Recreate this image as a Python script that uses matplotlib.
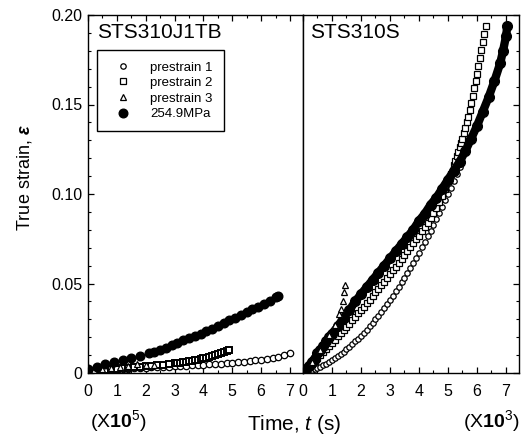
import matplotlib
matplotlib.use("Agg")
import matplotlib.pyplot as plt
from matplotlib.ticker import MultipleLocator, FixedLocator, FixedFormatter

plt.rcParams['font.family'] = ['Liberation Sans', 'DejaVu Sans']
plt.rcParams['mathtext.fontset'] = 'custom'
plt.rcParams['mathtext.rm'] = 'Liberation Sans'
plt.rcParams['mathtext.it'] = 'Liberation Sans:italic'
plt.rcParams['mathtext.bf'] = 'Liberation Sans:bold'
plt.rcParams['mathtext.sf'] = 'Liberation Sans:italic:bold'

# ---- left panel: STS310J1TB, time in 1e5 s ----
left_fill_x = [0.0, 0.3, 0.6, 0.9, 1.2, 1.5, 1.8, 2.1, 2.3, 2.5, 2.7, 2.9, 3.1, 3.3, 3.5, 3.7,
               3.9, 4.1, 4.3, 4.5, 4.7, 4.9, 5.1, 5.3, 5.5, 5.7, 5.9, 6.1, 6.3, 6.5, 6.6]
left_fill_y = [0.0020, 0.0035, 0.0048, 0.0060, 0.0073, 0.0085, 0.0097, 0.0110, 0.0120, 0.0130,
               0.0141, 0.0155, 0.0170, 0.0182, 0.0193, 0.0207, 0.0219, 0.0232, 0.0246, 0.0260,
               0.0277, 0.0294, 0.0310, 0.0326, 0.0341, 0.0356, 0.0371, 0.0388, 0.0405, 0.0422,
               0.0430]

left_sq_x = [0.0, 0.2, 0.4, 0.6, 0.8, 1.0, 1.2, 1.4, 1.6, 1.8, 2.0, 2.2, 2.4, 2.6, 2.8, 3.0,
             3.1, 3.2, 3.3, 3.4, 3.5, 3.6, 3.7, 3.8, 3.9, 4.0, 4.1, 4.2, 4.3, 4.4, 4.5, 4.6,
             4.7, 4.8, 4.9]
left_sq_y = [0.0010, 0.0013, 0.0016, 0.0019, 0.0022, 0.0025, 0.0027, 0.0030, 0.0032, 0.0035,
             0.0038, 0.0040, 0.0043, 0.0046, 0.0050, 0.0054, 0.0056, 0.0058, 0.0060, 0.0063,
             0.0065, 0.0068, 0.0071, 0.0074, 0.0078, 0.0082, 0.0086, 0.0090, 0.0095, 0.0100,
             0.0105, 0.0110, 0.0117, 0.0124, 0.0131]

left_circ_x = [0.0, 0.2, 0.4, 0.6, 0.8, 1.0, 1.2, 1.4, 1.6, 1.8, 2.0, 2.2, 2.4, 2.6, 2.8, 3.0,
               3.2, 3.4, 3.6, 3.8, 4.0, 4.2, 4.4, 4.6, 4.8, 5.0, 5.2, 5.4, 5.6, 5.8, 6.0, 6.2,
               6.4, 6.6, 6.8, 7.0]
left_circ_y = [0.0010, 0.0012, 0.0014, 0.0016, 0.0018, 0.0020, 0.0022, 0.0024, 0.0026, 0.0028,
               0.0030, 0.0031, 0.0033, 0.0035, 0.0036, 0.0038, 0.0040, 0.0041, 0.0043, 0.0045,
               0.0046, 0.0048, 0.0050, 0.0052, 0.0054, 0.0057, 0.0060, 0.0063, 0.0066, 0.0070,
               0.0074, 0.0079, 0.0085, 0.0092, 0.0100, 0.0110]

left_tri_x = [0.2, 0.5, 0.8, 1.1, 1.4, 1.7, 2.0, 2.3]
left_tri_y = [0.0014, 0.0020, 0.0026, 0.0032, 0.0040, 0.0050, 0.0046, 0.0042]

# ---- right panel: STS310S, time in 1e3 s ----
right_fill_x = [0.0, 0.1, 0.2, 0.3, 0.4, 0.5, 0.6, 0.7, 0.8, 0.9, 1.0, 1.2, 1.4, 1.6, 1.8, 2.0,
                2.2, 2.4, 2.6, 2.8, 3.0, 3.2, 3.4, 3.6, 3.8, 4.0, 4.2, 4.4, 4.6, 4.8, 5.0, 5.2,
                5.4, 5.6, 5.8, 6.0, 6.2, 6.4, 6.6, 6.8, 6.9, 7.0, 7.05]
right_fill_y = [0.000, 0.002, 0.004, 0.006, 0.008, 0.011, 0.013, 0.015, 0.018, 0.020, 0.022,
                0.026, 0.031, 0.035, 0.040, 0.044, 0.048, 0.052, 0.056, 0.060, 0.064, 0.068,
                0.072, 0.076, 0.080, 0.085, 0.089, 0.094, 0.098, 0.103, 0.108, 0.113, 0.118,
                0.124, 0.131, 0.138, 0.146, 0.154, 0.163, 0.173, 0.180, 0.188, 0.194]

right_circ_x = [0.0, 0.1, 0.2, 0.3, 0.4, 0.5, 0.6, 0.7, 0.8, 0.9, 1.0, 1.1, 1.2, 1.3, 1.4, 1.5,
                1.6, 1.7, 1.8, 1.9, 2.0, 2.1, 2.2, 2.3, 2.4, 2.5, 2.6, 2.7, 2.8, 2.9, 3.0, 3.1,
                3.2, 3.3, 3.4, 3.5, 3.6, 3.7, 3.8, 3.9, 4.0, 4.1, 4.2, 4.3, 4.4, 4.5, 4.6, 4.7,
                4.8, 4.9, 5.0, 5.1, 5.2, 5.3, 5.4]
right_circ_y = [0.0000, 0.0004, 0.0009, 0.0015, 0.0021, 0.0028, 0.0036, 0.0044, 0.0052, 0.0062,
                0.0072, 0.0083, 0.0094, 0.0106, 0.0119, 0.0132, 0.0146, 0.0160, 0.0176, 0.0192,
                0.0208, 0.0225, 0.0243, 0.0261, 0.0280, 0.0300, 0.0320, 0.0341, 0.0363, 0.0385,
                0.0408, 0.0432, 0.0456, 0.0480, 0.0506, 0.0532, 0.0559, 0.0586, 0.0614, 0.0643,
                0.0672, 0.0702, 0.0732, 0.0764, 0.0796, 0.0828, 0.0861, 0.0895, 0.0929, 0.0964,
                0.1000, 0.1036, 0.1073, 0.1111, 0.1149]

right_sq_x = [0.0, 0.1, 0.2, 0.3, 0.4, 0.5, 0.6, 0.7, 0.8, 0.9, 1.0, 1.1, 1.2, 1.3, 1.4, 1.5,
              1.6, 1.7, 1.8, 1.9, 2.0, 2.1, 2.2, 2.3, 2.4, 2.5, 2.6, 2.7, 2.8, 2.9, 3.0, 3.1,
              3.2, 3.3, 3.4, 3.5, 3.6, 3.7, 3.8, 3.9, 4.0, 4.1, 4.2, 4.3, 4.4, 4.5, 4.6, 4.7,
              4.8, 4.9, 5.0, 5.1, 5.2, 5.25, 5.3, 5.35, 5.4, 5.45, 5.5, 5.55, 5.6, 5.65, 5.7,
              5.75, 5.8, 5.85, 5.9, 5.95, 6.0, 6.05, 6.1, 6.15, 6.2, 6.25, 6.3]
right_sq_y = [0.0000, 0.0016, 0.0032, 0.0049, 0.0065, 0.0082, 0.0099, 0.0116, 0.0133, 0.0150,
              0.0168, 0.0186, 0.0204, 0.0222, 0.0240, 0.0258, 0.0276, 0.0295, 0.0314, 0.0333,
              0.0352, 0.0371, 0.0391, 0.0410, 0.0430, 0.0450, 0.0470, 0.0490, 0.0511, 0.0531,
              0.0552, 0.0573, 0.0594, 0.0615, 0.0636, 0.0658, 0.0680, 0.0702, 0.0724, 0.0746,
              0.0768, 0.0791, 0.0814, 0.0840, 0.0865, 0.0892, 0.0920, 0.0955, 0.0990, 0.1030,
              0.1070, 0.1113, 0.1160, 0.1185, 0.1210, 0.1235, 0.1260, 0.1285, 0.1310, 0.1340,
              0.1370, 0.1400, 0.1430, 0.1470, 0.1510, 0.1550, 0.1590, 0.1630, 0.1670, 0.1715,
              0.1760, 0.1805, 0.1850, 0.1895, 0.1940]

right_tri_x = [0.0, 0.3, 0.6, 0.9, 1.1, 1.24, 1.31, 1.37, 1.42, 1.45]
right_tri_y = [0.000, 0.006, 0.013, 0.021, 0.027, 0.033, 0.036, 0.040, 0.045, 0.049]

labels = ['prestrain 1', 'prestrain 2', 'prestrain 3', '254.9MPa']
x_ticks = [0, 1, 2, 3, 4, 5, 6, 7]
y_ticks = [0, 0.05, 0.10, 0.15, 0.20]
y_tick_labels = ['0', '0.05', '0.10', '0.15', '0.20']

fig = plt.figure(figsize=(5.28, 4.37), dpi=100)
ax1 = fig.add_axes([88 / 528, 1 - 373 / 437, 215 / 528, 358 / 437])
ax2 = fig.add_axes([303 / 528, 1 - 373 / 437, 216 / 528, 358 / 437])

open_kw = dict(linestyle='none', mfc='white', mec='black', mew=0.9)

# left panel
ax1.plot(left_circ_x, left_circ_y, marker='o', ms=4.6, **open_kw)
ax1.plot(left_sq_x, left_sq_y, marker='s', ms=4.4, linestyle='none', mfc='white',
         mec='black', mew=1.4)
ax1.plot(left_tri_x, left_tri_y, marker='^', ms=3.8, **open_kw)
ax1.plot(left_fill_x, left_fill_y, marker='o', ms=6.2, linestyle='none', color='black')

# right panel
h1, = ax2.plot(right_circ_x, right_circ_y, marker='o', ms=3.9, **open_kw)
h2, = ax2.plot(right_sq_x, right_sq_y, marker='s', ms=3.7, **open_kw)
ax2.plot(right_fill_x, right_fill_y, marker='o', ms=7, lw=6, color='black',
         solid_capstyle='round')
h3, = ax2.plot(right_tri_x, right_tri_y, marker='^', ms=3.8, **open_kw)
h4, = ax1.plot([], [], marker='o', ms=6.2, linestyle='none', color='black')

for ax in (ax1, ax2):
    ax.set_xlim(0, 7.45)
    ax.set_ylim(0, 0.2)
    ax.xaxis.set_major_locator(FixedLocator(x_ticks))
    ax.xaxis.set_minor_locator(MultipleLocator(0.5))
    ax.yaxis.set_major_locator(FixedLocator(y_ticks))
    ax.yaxis.set_major_formatter(FixedFormatter(y_tick_labels))
    ax.yaxis.set_minor_locator(MultipleLocator(0.01))
    ax.tick_params(which='major', direction='in', length=4, width=0.9, labelsize=11.5, pad=8)
    ax.tick_params(which='minor', direction='in', length=2.5, width=0.8)
    for sp in ax.spines.values():
        sp.set_linewidth(1.0)

ax1.tick_params(which='both', top=True, right=False)
ax1.tick_params(axis='y', pad=4)
ax2.tick_params(which='both', top=True, right=True, left=False, labelleft=False)

ax1.text(0.042, 0.95, 'STS310J1TB', transform=ax1.transAxes, fontsize=15,
         ha='left', va='center')
ax2.text(0.032, 0.95, 'STS310S', transform=ax2.transAxes, fontsize=15,
         ha='left', va='center')

leg = ax1.legend([h1, h2, h3, h4], labels, loc='upper left', bbox_to_anchor=(0.042, 0.902),
                 borderaxespad=0, fancybox=False, edgecolor='black', framealpha=1,
                 fontsize=9.5, handlelength=2.2, handletextpad=1.0, labelspacing=0.25,
                 borderpad=0.85)
leg.get_frame().set_linewidth(1.0)

fig.text(25 / 528, 1 - 178 / 437, 'True strain, $\\mathsf{ε}$', rotation=90,
         fontsize=13, ha='center', va='center')
fig.text(294 / 528, 1 - 425 / 437, 'Time, $\\mathit{t}$ (s)', fontsize=15,
         ha='center', va='center')
fig.text(118 / 528, 1 - 421 / 437, '(X$\\mathbf{10}^{5}$)', fontsize=14,
         ha='center', va='center')
fig.text(491 / 528, 1 - 421 / 437, '(X$\\mathbf{10}^{3}$)', fontsize=14,
         ha='center', va='center')

fig.savefig('out.png', dpi=100)
